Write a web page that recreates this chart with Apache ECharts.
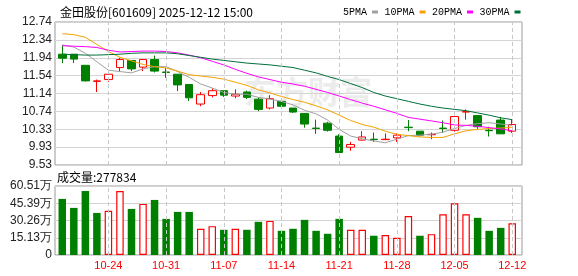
<!DOCTYPE html>
<html><head><meta charset="utf-8">
<script src="https://cdn.jsdelivr.net/npm/echarts@6/dist/echarts.min.js"></script>
<style>html,body{margin:0;padding:0;background:#fff}#c{width:578px;height:276px}</style>
</head><body><div id="c"></div>
<script>
const dates = ['10-20','10-21','10-22','10-23','10-24','10-27','10-28','10-29','10-30','10-31',
  '11-03','11-04','11-05','11-06','11-07','11-10','11-11','11-12','11-13','11-14',
  '11-17','11-18','11-19','11-20','11-21','11-24','11-25','11-26','11-27','11-28',
  '12-01','12-02','12-03','12-04','12-05','12-08','12-09','12-10','12-11','12-12'];
const labelDates = ['10-24','10-31','11-07','11-14','11-21','11-28','12-05','12-12'];
const open  = [12.02,12.02,11.77,11.41,11.45,11.72,11.88,11.73,11.90,11.62,
  11.57,11.34,10.90,11.09,11.20,11.08,11.17,11.01,10.81,10.96,
  10.81,10.69,10.36,10.47,10.18,9.93,10.09,10.11,10.10,10.14,
  10.38,10.29,10.21,10.36,10.31,10.72,10.64,10.31,10.54,10.29];
const close = [11.93,11.91,11.42,11.42,11.57,11.90,11.69,11.90,11.64,11.61,
  11.33,11.04,11.11,11.20,11.10,11.12,11.05,10.78,11.02,10.85,
  10.72,10.45,10.35,10.31,9.81,9.99,10.16,10.10,10.11,10.20,
  10.37,10.20,10.22,10.35,10.62,10.73,10.39,10.30,10.23,10.44];
const low   = [11.82,11.82,11.41,11.17,11.40,11.64,11.64,11.64,11.61,11.49,
  11.19,10.97,10.85,11.05,11.06,11.03,11.01,10.74,10.78,10.82,
  10.70,10.37,10.23,10.28,9.81,9.85,10.08,10.05,10.09,10.05,
  10.29,10.17,10.11,10.25,10.28,10.55,10.34,10.17,10.23,10.25];
const high  = [12.22,12.02,11.77,11.45,11.60,11.94,11.88,11.91,11.99,11.71,
  11.57,11.34,11.17,11.25,11.20,11.23,11.20,11.05,11.10,10.99,
  10.81,10.69,10.55,10.50,10.22,10.05,10.29,10.26,10.24,10.24,
  10.54,10.29,10.26,10.53,10.67,10.78,10.64,10.39,10.61,10.54];
const ma5  = [12.23,12.18,12.04,11.85,11.66,11.63,11.60,11.69,11.74,11.74,
  11.63,11.50,11.35,11.26,11.16,11.12,11.12,11.05,11.01,10.96,
  10.88,10.76,10.68,10.54,10.33,10.18,10.12,10.07,10.03,10.11,
  10.19,10.20,10.22,10.27,10.35,10.42,10.46,10.48,10.45,10.42];
const ma10 = [12.48,12.46,12.40,12.24,12.08,11.95,11.87,11.79,11.74,11.71,
  11.64,11.56,11.53,11.50,11.46,11.39,11.32,11.22,11.15,11.07,
  11.00,10.94,10.86,10.77,10.65,10.53,10.44,10.38,10.29,10.22,
  10.19,10.16,10.15,10.15,10.23,10.30,10.33,10.35,10.36,10.38];
const ma20 = [12.21,12.20,12.19,12.17,12.11,12.07,12.08,12.09,12.09,12.08,
  12.05,12.00,11.94,11.86,11.78,11.68,11.59,11.51,11.45,11.39,
  11.35,11.30,11.23,11.16,11.08,11.00,10.92,10.85,10.77,10.69,
  10.60,10.56,10.52,10.48,10.43,10.42,10.40,10.37,10.34,10.30];
const ma30 = [12.02,12.01,12.00,12.00,12.01,12.02,12.04,12.05,12.05,12.05,
  12.03,11.99,11.95,11.91,11.88,11.85,11.82,11.80,11.78,11.75,
  11.72,11.66,11.60,11.52,11.45,11.36,11.27,11.16,11.08,11.02,
  10.96,10.90,10.85,10.81,10.78,10.75,10.70,10.65,10.59,10.55];
// volume in 万
const volume = [49.2,41.3,56.1,36.9,38.7,56.1,40.4,44.8,48.3,31.7,
  37.8,37.8,23.0,25.3,22.1,23.0,22.1,29.1,29.9,21.2,
  23.0,30.8,21.2,18.6,31.7,22.1,22.1,16.9,17.5,15.1,
  34.1,16.9,18.3,35.8,45.4,35.8,32.6,21.2,23.8,27.78];
// 1 = red (up) bar, 0 = green (down) bar
const volUp = [0,0,0,0,1,1,0,1,0,0, 0,0,1,1,0,1,0,0,1,0,
  0,0,0,0,0,1,1,0,1,1, 1,0,1,1,1,1,0,0,0,1];
const priceTicks = ['9.53','9.93','10.33','10.74','11.14','11.54','11.94','12.34','12.74'];
const volTicks = ['0','15.13万','30.26万','45.39万','60.51万'];
const priceMin = 9.53, priceMax = 12.7436, volMax = 60.51;

const RED = '#ff0000', GREEN = '#008000';
const candleData = dates.map((d, i) => [open[i], close[i], low[i], high[i]]);
const volData = volume.map((v, i) => ({
  value: v,
  itemStyle: volUp[i] ? {color: '#ffffff', borderColor: RED, borderWidth: 1.2}
                      : {color: GREEN, borderColor: GREEN, borderWidth: 0}
}));
const vLines = {
  symbol: ['none', 'none'], silent: true, animation: false,
  label: {show: false},
  lineStyle: {color: '#c8c8c8', type: [4, 3], width: 1},
  emphasis: {disabled: true},
  data: labelDates.map(d => ({xAxis: d}))
};
const labelFont = 'Liberation Sans';
const chart = echarts.init(document.getElementById('c'), null, {renderer: 'canvas'});
chart.setOption({
  animation: false,
  backgroundColor: '#ffffff',
  title: {
    text: '金田股份[601609] 2025-12-12 15:00',
    left: 55, top: 1,
    textStyle: {fontSize: 12, fontWeight: 'normal', color: '#000', fontFamily: 'Noto Sans CJK SC'}
  },
  legend: {
    left: 338, top: 2, align: 'right', itemGap: 6.5, itemWidth: 6, itemHeight: 3,
    icon: 'rect', selectedMode: false,
    textStyle: {fontSize: 10, color: '#000', fontFamily: 'Liberation Mono'},
    data: ['5PMA', '10PMA', '20PMA', '30PMA']
  },
  graphic: [
    {type: 'text', left: 244, top: 76, z: 0, silent: true,
     style: {text: '东方财富', fill: '#ececec', font: 'bold 32px "Noto Sans CJK SC"'}},
    {type: 'text', left: 57, top: 171, silent: true,
     style: {text: '成交量:277834', fill: '#000', font: '12px "Noto Sans CJK SC"'}}
  ],
  grid: [
    {left: 55, right: 56, top: 22, height: 143, show: true, borderColor: '#999', borderWidth: 1, backgroundColor: 'transparent'},
    {left: 56.5, right: 60, top: 22, height: 143},
    {left: 55, right: 56, top: 186, height: 69, show: true, borderColor: '#999', borderWidth: 1, backgroundColor: 'transparent'},
    {left: 56.5, right: 60, top: 186, height: 69}
  ],
  xAxis: [
    {gridIndex: 0, type: 'value', min: 0, max: 1, show: false},
    {gridIndex: 1, type: 'category', data: dates, boundaryGap: true,
     axisLine: {show: false}, axisTick: {show: false}, axisLabel: {show: false}, splitLine: {show: false}},
    {gridIndex: 2, type: 'value', min: 0, max: 1, show: false},
    {gridIndex: 3, type: 'category', data: dates, boundaryGap: true,
     axisLine: {show: false}, axisTick: {show: false}, splitLine: {show: false},
     axisLabel: {show: true, color: RED, fontSize: 11, fontFamily: labelFont, margin: 5,
       interval: (i, v) => labelDates.indexOf(v) >= 0, hideOverlap: false}}
  ],
  yAxis: [
    {gridIndex: 0, type: 'value', min: 0, max: 8, interval: 1,
     axisLine: {show: false}, axisTick: {show: false},
     splitLine: {show: true, lineStyle: {color: '#d4d4d4', width: 1}},
     axisLabel: {color: '#222', fontSize: 12, fontFamily: labelFont, margin: 3,
       formatter: v => priceTicks[Math.round(v)]}},
    {gridIndex: 1, type: 'value', min: priceMin, max: priceMax, show: false, splitLine: {show: false}},
    {gridIndex: 2, type: 'value', min: 0, max: 4, interval: 1,
     axisLine: {show: false}, axisTick: {show: false},
     splitLine: {show: true, lineStyle: {color: '#d4d4d4', width: 1}},
     axisLabel: {color: '#222', fontSize: 12, fontFamily: labelFont, margin: 3,
       formatter: v => volTicks[Math.round(v)]}},
    {gridIndex: 3, type: 'value', min: 0, max: volMax, show: false, splitLine: {show: false}}
  ],
  series: [
    {type: 'candlestick', name: 'K', xAxisIndex: 1, yAxisIndex: 1, data: candleData,
     barWidth: 8, silent: true,
     itemStyle: {color: '#ffffff', color0: GREEN, borderColor: RED, borderColor0: GREEN, borderWidth: 1},
     markLine: vLines},
    {type: 'line', name: '5PMA', xAxisIndex: 1, yAxisIndex: 1, data: ma5, symbol: 'none', silent: true,
     color: '#a0a0a0', lineStyle: {width: 1, color: '#a0a0a0'}},
    {type: 'line', name: '10PMA', xAxisIndex: 1, yAxisIndex: 1, data: ma10, symbol: 'none', silent: true,
     color: '#f5a300', lineStyle: {width: 1, color: '#f5a300'}},
    {type: 'line', name: '20PMA', xAxisIndex: 1, yAxisIndex: 1, data: ma20, symbol: 'none', silent: true,
     color: '#ff00ff', lineStyle: {width: 1, color: '#ff00ff'}},
    {type: 'line', name: '30PMA', xAxisIndex: 1, yAxisIndex: 1, data: ma30, symbol: 'none', silent: true,
     color: '#00703a', lineStyle: {width: 1, color: '#00703a'}},
    {type: 'bar', name: 'VOL', xAxisIndex: 3, yAxisIndex: 3, data: volData, barWidth: 7.5, silent: true,
     markLine: vLines}
  ]
});
</script></body></html>
